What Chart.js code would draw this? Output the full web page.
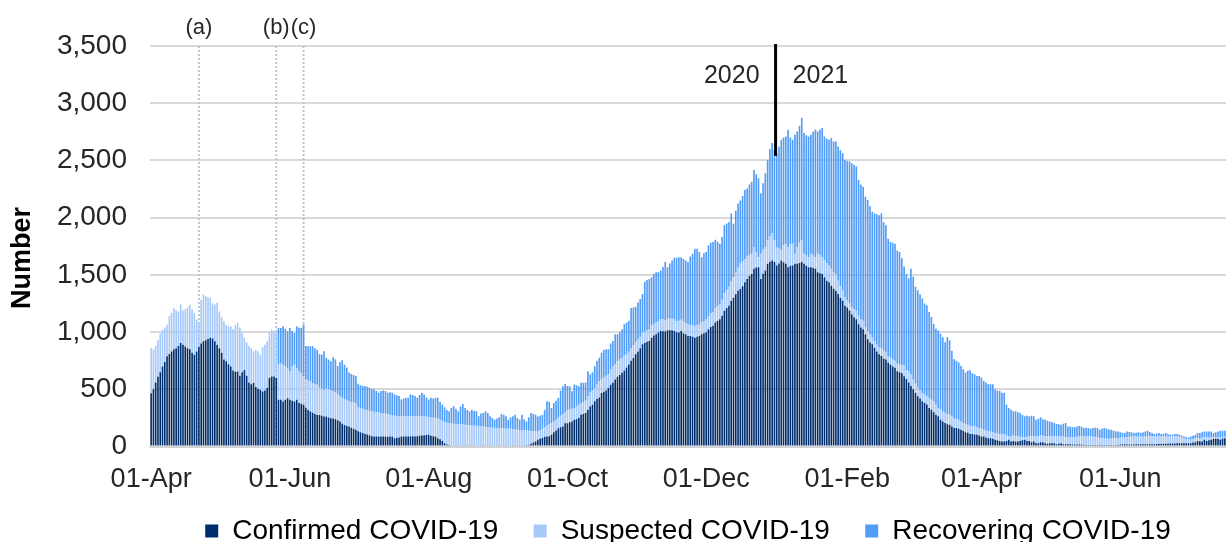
<!doctype html>
<html lang="en">
<head>
<meta charset="utf-8">
<title>COVID-19 patients in hospital</title>
<style>
  html, body { margin: 0; padding: 0; background: #fff; }
  #caixa { width: 1226px; height: 542px; }
</style>
</head>
<body>
<div id="caixa"><canvas id="grafico" width="1226" height="542"></canvas></div>

<script src="https://cdn.jsdelivr.net/npm/chart.js"></script>
<script>
// daily values, first day 01-Apr-2020
const startDate = '2020-04-01';

const confirmed = [
  467,500,560,610,650,700,740,790,810,830,
  850,860,880,905,890,875,860,850,820,803,
  830,870,900,920,930,940,950,945,920,890,
  860,820,760,745,720,700,665,655,657,620,
  650,670,620,560,545,555,520,505,496,482,
  490,511,600,613,613,600,409,409,394,410,
  423,409,400,394,409,380,375,365,340,320,
  307,295,285,277,277,270,263,263,255,248,
  245,240,230,220,200,188,180,176,165,155,
  147,135,125,118,110,105,100,90,88,88,
  88,88,88,88,85,88,88,74,78,80,
  88,88,88,88,90,90,88,90,95,97,
  100,102,103,95,90,88,74,65,50,29,
  18,15,12,12,12,12,12,12,12,12,
  12,12,12,12,12,12,12,12,12,12,
  12,12,12,12,12,12,12,12,12,12,
  12,12,12,12,12,14,15,25,35,44,
  59,68,75,85,88,90,103,125,140,161,
  170,176,205,205,212,220,234,240,249,278,
  285,293,322,350,366,396,415,430,469,480,
  490,513,540,557,586,610,625,645,665,690,
  718,750,775,806,830,860,894,905,915,923,
  952,970,982,996,1011,1008,1005,1017,1017,1017,
  1011,1000,996,1011,990,982,967,967,960,952,
  960,967,982,990,1000,1026,1045,1055,1084,1100,
  1113,1143,1187,1210,1231,1275,1300,1330,1362,1377,
  1400,1436,1465,1490,1509,1553,1565,1568,1465,1510,
  1538,1597,1615,1626,1612,1582,1600,1626,1610,1597,
  1568,1580,1582,1597,1597,1605,1612,1597,1580,1568,
  1568,1560,1553,1524,1515,1509,1480,1450,1436,1406,
  1380,1362,1333,1300,1275,1231,1215,1190,1157,1130,
  1113,1069,1040,1026,982,938,910,894,864,830,
  806,791,770,762,733,718,700,689,659,650,
  640,615,590,560,530,500,470,440,420,397,
  382,367,338,323,300,279,265,235,220,206,
  195,191,176,162,162,156,147,138,126,120,
  109,109,105,103,97,88,88,79,74,74,
  68,59,55,50,44,44,50,59,44,50,
  44,44,50,55,59,50,50,38,44,29,
  29,38,38,29,25,29,29,29,20,25,
  29,20,20,20,20,18,18,18,18,18,
  15,15,15,15,15,15,15,15,15,15,
  15,15,15,15,15,15,18,20,20,18,
  18,18,18,20,20,20,20,20,20,20,
  20,20,22,22,22,24,24,24,26,26,
  28,29,29,29,29,29,29,29,36,38,
  50,46,44,59,50,55,59,68,68,68,
  59,70,74
];

const suspected = [
  394,350,320,320,340,320,300,275,330,340,
  362,330,300,336,300,325,355,390,380,365,
  280,215,380,409,384,365,350,305,321,366,
  320,310,335,315,331,350,360,405,423,420,
  340,280,290,320,316,277,325,325,309,388,
  400,409,400,409,395,400,306,321,321,290,
  263,248,300,321,277,277,265,248,250,255,
  262,260,263,263,238,235,233,248,245,242,
  240,235,230,220,226,227,225,221,225,230,
  233,210,210,212,213,213,212,219,217,212,
  210,206,202,198,195,190,187,196,190,185,
  177,177,177,177,175,175,177,175,170,168,
  162,158,155,160,162,162,171,170,175,186,
  190,191,193,188,186,184,182,180,179,176,
  174,173,170,168,166,164,163,160,158,154,
  152,150,148,148,146,146,144,143,143,140,
  138,136,133,133,130,126,123,110,98,88,
  73,77,80,85,97,105,102,93,95,94,
  100,109,95,113,113,110,103,110,116,102,
  105,107,118,120,129,117,130,140,117,125,
  130,117,135,143,132,135,140,131,130,120,
  110,106,108,104,105,100,102,98,101,99,
  105,98,102,96,100,104,97,101,99,103,
  100,96,104,98,102,97,101,95,99,103,
  100,98,104,107,110,115,118,122,125,128,
  132,140,150,158,165,172,180,190,200,223,
  220,204,195,180,176,190,135,87,220,210,
  205,205,225,235,190,161,130,88,150,176,
  175,190,191,88,146,175,190,88,90,87,
  117,110,102,161,155,146,146,150,146,147,
  140,147,117,100,87,73,65,60,59,70,
  74,74,70,73,58,73,70,58,59,60,
  65,66,68,64,55,58,60,62,65,70,
  72,95,80,100,105,85,80,74,70,72,
  74,73,88,87,97,86,73,90,90,89,
  87,88,86,88,80,79,73,68,72,71,
  74,69,70,65,65,67,59,61,61,56,
  58,59,57,59,61,61,45,29,48,47,
  48,44,35,25,20,34,38,50,44,59,
  59,62,57,61,63,59,59,59,68,63,
  59,65,62,60,59,62,64,67,70,70,
  73,73,73,73,70,67,65,60,57,55,
  53,53,55,57,59,61,60,59,59,64,
  67,68,70,68,66,69,67,68,65,68,
  68,68,66,66,66,64,64,64,62,62,
  60,59,56,51,45,36,33,30,29,32,
  24,30,33,20,29,25,21,12,12,14,
  20,12,11
];

const recovering = [
  0,0,0,0,0,0,0,0,0,0,
  0,0,0,0,0,0,0,0,0,0,
  0,0,0,0,0,0,0,0,0,0,
  0,0,0,0,0,0,0,0,0,0,
  0,0,0,0,0,0,0,0,0,0,
  0,0,0,0,0,0,322,307,336,330,
  322,380,310,278,365,383,397,453,290,301,
  307,321,312,307,295,298,336,263,260,255,
  295,289,245,300,329,300,285,250,245,240,
  237,205,200,199,206,204,203,191,195,185,
  172,191,200,199,190,197,195,186,180,176,
  147,155,161,161,191,185,176,161,185,205,
  194,170,154,171,168,176,181,155,143,129,
  112,103,133,153,132,113,156,181,147,132,
  123,138,130,129,87,114,119,137,124,99,
  86,73,85,96,127,121,109,80,101,113,
  129,102,90,134,98,80,118,158,152,146,
  132,125,123,152,211,195,132,163,165,170,
  220,242,248,212,202,153,205,185,162,177,
  167,160,219,160,155,190,205,206,234,240,
  230,220,225,223,264,237,235,250,275,274,
  271,354,333,312,325,330,337,437,439,443,
  423,442,440,432,427,458,510,450,484,506,
  539,554,555,546,548,547,544,598,626,674,
  669,635,569,593,590,617,617,610,599,562,
  528,548,597,582,567,589,468,540,562,550,
  570,601,596,620,630,674,680,689,527,580,
  645,703,760,791,791,821,890,967,940,937,
  1026,930,908,1040,1011,1020,1069,1055,1050,1055,
  1040,1080,1114,1069,1100,1128,1084,1090,1099,1143,
  1146,1157,1172,1190,1202,1201,1215,1240,1260,1260,
  1260,1186,1180,1172,1143,1143,1120,1099,1113,1140,
  1151,1179,1122,1108,1029,1011,1020,1022,990,980,
  934,863,839,810,918,900,847,853,840,825,
  794,795,750,722,676,664,676,660,645,616,
  673,651,576,514,508,500,486,470,449,471,
  484,462,457,449,455,448,426,419,409,414,
  418,382,378,376,365,365,272,250,231,212,
  217,212,209,199,186,186,177,182,177,147,
  156,156,145,145,138,132,127,118,109,107,
  103,115,124,96,97,92,86,91,92,88,
  74,77,74,68,77,83,82,72,83,92,
  88,82,77,66,61,56,48,43,39,50,
  43,40,30,34,40,29,38,44,53,40,
  30,21,27,30,21,24,30,21,15,18,
  21,21,18,17,14,17,17,29,30,33,
  44,42,48,53,53,52,52,38,45,50,
  59,56,53
];

const tickDates  = ['2020-04-01','2020-06-01','2020-08-01','2020-10-01','2020-12-01','2021-02-01','2021-04-01','2021-06-01'];
const tickLabels = ['01-Apr','01-Jun','01-Aug','01-Oct','01-Dec','01-Feb','01-Apr','01-Jun'];

// dotted marker lines (a), (b), (c)
const markerDates  = ['2020-04-22','2020-05-26','2020-06-07'];
const markerLabels = ['(a)','(b)','(c)'];
const yearSplitDate = '2021-01-01';
const yearLabels = ['2020','2021'];
const yTitle = 'Number';

const seriesNames  = ['Confirmed COVID-19','Suspected COVID-19','Recovering COVID-19'];
const seriesColors = ['#002d6b','#a6c9fa','#519cf7'];

// one category per day
const days = [];
const t0 = Date.parse(startDate + 'T00:00:00Z');
for (let i = 0; i < confirmed.length; i++) {
  days.push(new Date(t0 + i * 86400000).toISOString().slice(0, 10));
}

const fonte = "'Liberation Sans', Arial, sans-serif";

const notas = {
  id: 'notas',
  beforeDatasetsDraw(chart) {
    const { ctx, chartArea, scales: { x } } = chart;
    ctx.save();
    ctx.strokeStyle = '#c4c4c4';
    ctx.lineWidth = 2;
    ctx.setLineDash([2, 2]);
    markerDates.forEach(d => {
      const px = x.getPixelForValue(days.indexOf(d));
      ctx.beginPath();
      ctx.moveTo(px, chartArea.top);
      ctx.lineTo(px, chartArea.bottom);
      ctx.stroke();
    });
    ctx.restore();
  },
  afterDatasetsDraw(chart) {
    const { ctx, chartArea, scales: { x, y } } = chart;
    ctx.save();
    ctx.fillStyle = '#262626';
    ctx.textBaseline = 'middle';
    ctx.textAlign = 'center';
    ctx.font = '22px ' + fonte;
    markerDates.forEach((d, i) => {
      const px = x.getPixelForValue(days.indexOf(d));
      ctx.fillText(markerLabels[i], px, 28);
    });

    const k = days.indexOf(yearSplitDate);
    const sx = (x.getPixelForValue(k - 1) + x.getPixelForValue(k)) / 2;
    ctx.strokeStyle = '#000';
    ctx.lineWidth = 3;
    ctx.beginPath();
    ctx.moveTo(sx, chartArea.top - 2);
    ctx.lineTo(sx, y.getPixelForValue(2540));
    ctx.stroke();

    ctx.font = '25px ' + fonte;
    ctx.textAlign = 'right';
    ctx.fillText(yearLabels[0], sx - 16, 76);
    ctx.textAlign = 'left';
    ctx.fillText(yearLabels[1], sx + 17, 76);

    // axis title, set a bit below the middle as in the original
    ctx.translate(23, 258);
    ctx.rotate(-Math.PI / 2);
    ctx.textAlign = 'center';
    ctx.fillStyle = '#000';
    ctx.font = 'bold 27px ' + fonte;
    ctx.fillText(yTitle, 0, 0);
    ctx.restore();
  }
};

const dados = {
  labels: days,
  datasets: [confirmed, suspected, recovering].map((vals, i) => ({
    label: seriesNames[i],
    data: vals,
    backgroundColor: seriesColors[i],
    borderWidth: 0,
    barPercentage: 0.72,
    categoryPercentage: 1,
    inflateAmount: 0
  }))
};

new Chart(document.getElementById('grafico'), {
  type: 'bar',
  data: dados,
  plugins: [notas],
  options: {
    responsive: false,
    animation: false,
    devicePixelRatio: 1,
    events: [],
    layout: { padding: { top: 46, right: 0, bottom: -13, left: 0 } },
    plugins: {
      tooltip: { enabled: false },
      legend: {
        position: 'bottom',
        fullSize: false,
        labels: {
          boxWidth: 13,
          boxHeight: 13,
          padding: 12,
          color: '#262626',
          font: { size: 28, family: fonte },
          generateLabels(chart) {
            return chart.data.datasets.map((ds, i) => ({
              text: i < 2 ? ds.label + '   ' : ds.label,
              fillStyle: ds.backgroundColor,
              strokeStyle: ds.backgroundColor,
              lineWidth: 0,
              hidden: false,
              datasetIndex: i
            }));
          }
        }
      }
    },
    scales: {
      x: {
        stacked: true,
        offset: true,
        grid: {
          offset: true,
          drawOnChartArea: false,
          drawTicks: true,
          tickLength: 8,
          lineWidth: 1.5,
          color: c => tickDates.includes(days[c.index]) ? '#d0d0d0' : 'rgba(0,0,0,0)'
        },
        border: { display: true, color: '#d0d0d0', width: 1.5 },
        ticks: {
          autoSkip: false,
          maxRotation: 0,
          minRotation: 0,
          padding: 9,
          color: '#262626',
          font: { size: 27, family: fonte },
          callback: (v, i) => {
            const k = tickDates.indexOf(days[i]);
            return k < 0 ? null : tickLabels[k];
          }
        }
      },
      y: {
        stacked: true,
        min: 0,
        max: 3500,
        afterFit: s => { s.width = 150; },
        grid: { color: '#d9d9d9', lineWidth: 2, drawTicks: false },
        border: { display: false },
        ticks: {
          stepSize: 500,
          padding: 23,
          color: '#262626',
          font: { size: 28, family: fonte },
          callback: v => v.toLocaleString('en-US')
        }
      }
    }
  }
});
</script>
</body>
</html>
